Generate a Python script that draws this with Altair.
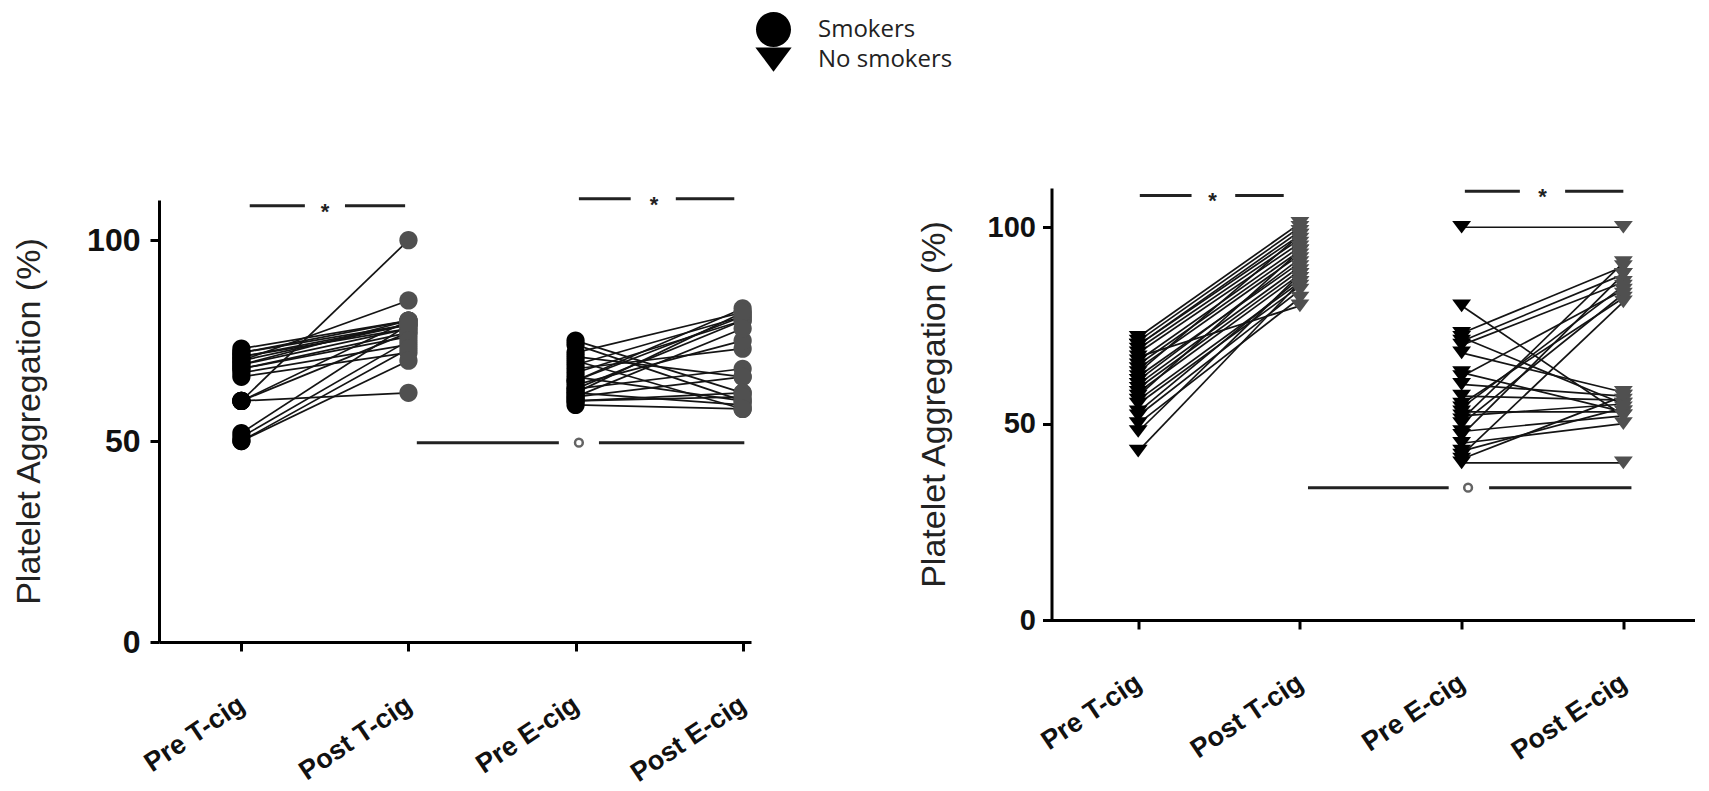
import altair as alt
import pandas as pd

categories = ["Pre T-cig", "Post T-cig", "Pre E-cig", "Post E-cig"]
groups = ["Smokers", "No smokers"]
y_ticks = [0, 50, 100]

# Smokers (left panel)
smk_pre_t = [73, 72, 72, 71, 71, 70, 70, 69, 69, 68, 68, 67, 66, 60, 60, 60, 60, 52, 51, 50, 50]
smk_post_t = [80, 79, 80, 78, 79, 85, 79, 80, 78, 77, 76, 74, 72, 100, 62, 80, 77, 79, 75, 73, 70]
smk_pre_e = [75, 74, 72, 71, 70, 69, 68, 67, 66, 65, 65, 64, 63, 63, 62, 62, 61, 61, 60, 60, 59]
smk_post_e = [62, 60, 82, 66, 58, 81, 73, 80, 60, 81, 83, 75, 80, 68, 82, 59, 78, 66, 62, 61, 58]

# No smokers (right panel)
non_pre_t = [72, 71, 70, 70, 69, 68, 67, 66, 65, 64, 63, 62, 61, 60, 59, 58, 57, 56, 55, 53, 52, 50, 48, 43]
non_post_t = [101, 100, 99, 98, 97, 96, 80, 95, 94, 93, 98, 91, 92, 90, 89, 88, 94, 86, 85, 87, 84, 82, 88, 86]
non_pre_e = [100, 80, 73, 72, 71, 70, 68, 63, 62, 60, 57, 55, 54, 53, 52, 51, 50, 48, 47, 45, 43, 42, 41, 40]
non_post_e = [100, 52, 90, 55, 88, 86, 58, 53, 84, 57, 56, 82, 85, 53, 55, 91, 83, 52, 88, 50, 54, 81, 57, 40]

# significance annotations: (x_start, x_end, y)
left_segments = [(1.05, 1.38, 108.6), (1.62, 1.98, 108.6), (3.02, 3.33, 110.3), (3.60, 3.95, 110.3),
                 (2.05, 2.90, 49.6), (3.14, 4.01, 49.6)]
left_stars = [(1.50, 108.6), (3.47, 110.3)]
left_rings = [(3.02, 49.6)]
right_segments = [(1.01, 1.33, 108.1), (1.60, 1.90, 108.1), (3.02, 3.36, 109.2), (3.64, 4.00, 109.2),
                  (2.05, 2.92, 33.7), (3.17, 4.05, 33.7)]
right_stars = [(1.46, 108.1), (3.50, 109.2)]
right_rings = [(3.04, 33.7)]

label_expr = "[" + ",".join("'" + c + "'" for c in categories) + "][datum.value - 1]"

CIRCLE = "M-1.4,0A1.4,1.4,0,1,0,1.4,0A1.4,1.4,0,1,0,-1.4,0Z"
TRI_DOWN = "M-1.45,-0.97L1.45,-0.97L0,0.97Z"


def build_df(pre_t, post_t, pre_e, post_e, group):
    rows = []
    for i, (a, b) in enumerate(zip(pre_t, post_t)):
        rows.append(dict(subj=f"T{i}", pos=1, value=a, phase="Pre", group=group))
        rows.append(dict(subj=f"T{i}", pos=2, value=b, phase="Post", group=group))
    for i, (a, b) in enumerate(zip(pre_e, post_e)):
        rows.append(dict(subj=f"E{i}", pos=3, value=a, phase="Pre", group=group))
        rows.append(dict(subj=f"E{i}", pos=4, value=b, phase="Post", group=group))
    return pd.DataFrame(rows)


def panel(df, xdom, w, h, segs, stars, rings, lab_size, lab_pad, title_pad):
    xs = alt.Scale(domain=xdom, nice=False, zero=False)
    ys = alt.Scale(domain=[0, 110], nice=False)
    x_axis = alt.Axis(values=[1, 2, 3, 4], labelExpr=label_expr, title=None, labelAngle=-34,
                      labelFont="Liberation Sans", labelFontWeight="bold", labelFontSize=27,
                      labelColor="#111", labelPadding=40, labelOffset=-7, domainWidth=3, domainColor="#000",
                      tickWidth=3, tickSize=9, tickColor="#000", grid=False)
    y_axis = alt.Axis(values=y_ticks, title="Platelet Aggregation (%)", titleFont="Liberation Sans",
                      titleFontSize=34, titleFontWeight="normal", titleColor="#222", titlePadding=title_pad,
                      labelFont="Liberation Sans", labelFontWeight="bold", labelFontSize=lab_size,
                      labelColor="#111", labelPadding=lab_pad, domainWidth=3, domainColor="#000",
                      tickWidth=3, tickSize=9, tickColor="#000", grid=False)
    x = alt.X("pos:Q", scale=xs, axis=x_axis)
    y = alt.Y("value:Q", scale=ys, axis=y_axis)
    lines = alt.Chart(df).mark_line(color="#141414", strokeWidth=1.7).encode(
        x=x, y=y, detail="subj:N")
    pts = alt.Chart(df).mark_point(filled=True, size=170, opacity=1).encode(
        x=x, y=y,
        color=alt.Color("phase:N", scale=alt.Scale(domain=["Pre", "Post"], range=["#000000", "#505050"]),
                        legend=None),
        shape=alt.Shape("group:N", scale=alt.Scale(domain=groups, range=[CIRCLE, TRI_DOWN]),
                        legend=alt.Legend(title=None, orient="none", legendX=602, legendY=-171,
                                          symbolSize=625, symbolFillColor="#000", symbolStrokeColor="#000",
                                          symbolStrokeWidth=0, labelFont="Open Sans", labelFontSize=24,
                                          labelColor="#222", labelOffset=32, rowPadding=-6, padding=0)),
    )
    segdf = pd.DataFrame(segs, columns=["pos", "pos2", "value"])
    stardf = pd.DataFrame(stars, columns=["pos", "value"])
    ringdf = pd.DataFrame(rings, columns=["pos", "value"])
    seg = alt.Chart(segdf).mark_rule(strokeWidth=3, color="#222").encode(x=x, x2="pos2:Q", y=y)
    star = alt.Chart(stardf).mark_text(text="*", fontSize=22, fontWeight="bold", font="Liberation Sans",
                                        color="#222", baseline="middle", dy=6).encode(x=x, y=y)
    ring = alt.Chart(ringdf).mark_point(shape="circle", filled=False, size=60, strokeWidth=2.5,
                                        color="#222").encode(x=x, y=y)
    return alt.layer(lines, pts, seg, star, ring).properties(width=w, height=h)


left = panel(build_df(smk_pre_t, smk_post_t, smk_pre_e, smk_post_e, "Smokers"),
             [0.507, 4.05], 592, 442, left_segments, left_stars, left_rings, 32, 10, 40)
right = panel(build_df(non_pre_t, non_post_t, non_pre_e, non_post_e, "No smokers"),
              [0.464, 4.44], 643, 432, right_segments, right_stars, right_rings, 29, 7, 36)

spacer = alt.Chart(pd.DataFrame({"s": [0]})).mark_point(opacity=0).encode(
    x=alt.value(0), y=alt.value(0)).properties(width=592, height=5)

chart = alt.hconcat(alt.vconcat(spacer, left, spacing=0), right, spacing=164.5).resolve_scale(
    x="independent", y="independent", shape="shared", color="shared"
).resolve_legend(shape="shared").properties(
    padding={"left": 12, "top": 17, "right": 0, "bottom": 0}, background="white"
).configure_view(stroke=None)

chart.save("out.html", embed_options={"renderer": "svg", "actions": False})
